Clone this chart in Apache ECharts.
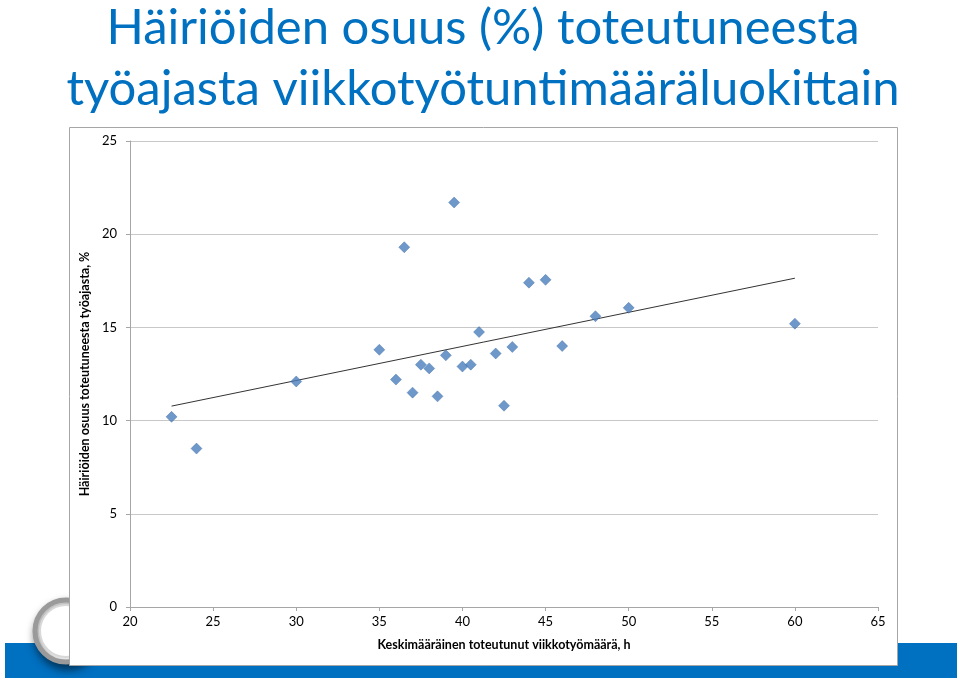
<!DOCTYPE html>
<html>
<head>
<meta charset="utf-8">
<script src="https://cdn.jsdelivr.net/npm/echarts@6/dist/echarts.min.js"></script>
<style>html,body{margin:0;padding:0;background:#fff;}#c{width:960px;height:681px;}</style>
</head>
<body>
<div id="c"></div>
<script>
// Data
const hours = [22.5, 24, 30, 35, 36, 36.5, 37, 37.5, 38, 38.5, 39, 39.5, 40, 40.5, 41, 42, 42.5, 43, 44, 45, 46, 48, 50, 60];
const share = [10.2, 8.5, 12.1, 13.8, 12.2, 19.3, 11.5, 13.0, 12.8, 11.3, 13.5, 21.7, 12.9, 13.0, 14.75, 13.6, 10.8, 13.95, 17.4, 17.55, 14.0, 15.6, 16.05, 15.2];
const xTicks = [20, 25, 30, 35, 40, 45, 50, 55, 60, 65];
const yTicks = [0, 5, 10, 15, 20, 25];
const titleLines = ['Häiriöiden osuus (%) toteutuneesta', 'työajasta viikkotyötuntimääräluokittain'];
const xName = 'Keskimääräinen toteutunut viikkotyömäärä, h';
const yName = 'Häiriöiden osuus toteutuneesta työajasta, %';

// linear trend (least squares) from the data
const n = hours.length;
const mx = hours.reduce((a, b) => a + b, 0) / n;
const my = share.reduce((a, b) => a + b, 0) / n;
let sxy = 0, sxx = 0;
for (let i = 0; i < n; i++) { sxy += (hours[i] - mx) * (share[i] - my); sxx += (hours[i] - mx) ** 2; }
const slope = sxy / sxx, icpt = my - slope * mx;
const xmin = Math.min(...hours), xmax = Math.max(...hours);
const trend = [[xmin, icpt + slope * xmin], [xmax, icpt + slope * xmax]];

const chart = echarts.init(document.getElementById('c'), null, {renderer: 'canvas'});
const font = 'Lato, "Open Sans", sans-serif';
chart.setOption({
  animation: false,
  backgroundColor: '#ffffff',
  title: {
    text: titleLines.join('\n'),
    left: 478, top: -7, textAlign: 'center',
    textStyle: {color: '#0070C0', fontSize: 49, fontWeight: 'normal', fontFamily: font, lineHeight: 61}
  },
  graphic: [
    {type: 'rect', z: -30, shape: {x: 5, y: 643, width: 952, height: 35}, style: {fill: '#0070C0'}},
    {type: 'circle', z: -25, shape: {cx: 66, cy: 631, r: 31},
     style: {fill: '#f2f2f2', stroke: '#9a9a9a', lineWidth: 5, shadowBlur: 8, shadowColor: 'rgba(0,0,0,0.5)', shadowOffsetX: 2, shadowOffsetY: 5}},
    {type: 'circle', z: -24, shape: {cx: 66, cy: 631, r: 26},
     style: {fill: '#ffffff', stroke: '#d8d8d8', lineWidth: 2}},
    {type: 'rect', z: -20, shape: {x: 69.5, y: 127.5, width: 828, height: 538},
     style: {fill: '#ffffff', stroke: '#a6a6a6', lineWidth: 1}}
  ],
  grid: {left: 130, right: 82, top: 141, bottom: 74, containLabel: false},
  xAxis: {
    type: 'value', min: xTicks[0], max: xTicks[xTicks.length - 1], interval: 5,
    name: xName, nameLocation: 'middle', nameGap: 31,
    nameTextStyle: {fontFamily: font, fontSize: 12.5, fontWeight: 'bold', color: '#000'},
    axisLine: {show: true, lineStyle: {color: '#a6a6a6'}},
    axisTick: {show: true, length: 4, lineStyle: {color: '#a6a6a6'}},
    axisLabel: {fontFamily: font, fontSize: 13, color: '#000', margin: 8},
    splitLine: {show: false}
  },
  yAxis: {
    type: 'value', min: yTicks[0], max: yTicks[yTicks.length - 1], interval: 5,
    name: yName, nameLocation: 'middle', nameGap: 31, nameRotate: 90,
    nameTextStyle: {fontFamily: font, fontSize: 12.5, fontWeight: 'bold', color: '#000'},
    axisLine: {show: true, lineStyle: {color: '#a6a6a6'}},
    axisTick: {show: true, length: 4, lineStyle: {color: '#a6a6a6'}},
    axisLabel: {fontFamily: font, fontSize: 13, color: '#000', margin: 13},
    splitLine: {show: true, lineStyle: {color: '#c8c8c8', width: 1}}
  },
  series: [
    {type: 'line', data: trend, symbol: 'none', lineStyle: {color: '#333333', width: 1}, silent: true, z: 2},
    {type: 'scatter', data: hours.map((h, i) => [h, share[i]]), symbol: 'diamond', symbolSize: [11, 11],
     itemStyle: {color: '#4A7EBB', borderColor: '#3a6aa5', borderWidth: 0.5}, z: 3}
  ]
});
</script>
</body>
</html>
